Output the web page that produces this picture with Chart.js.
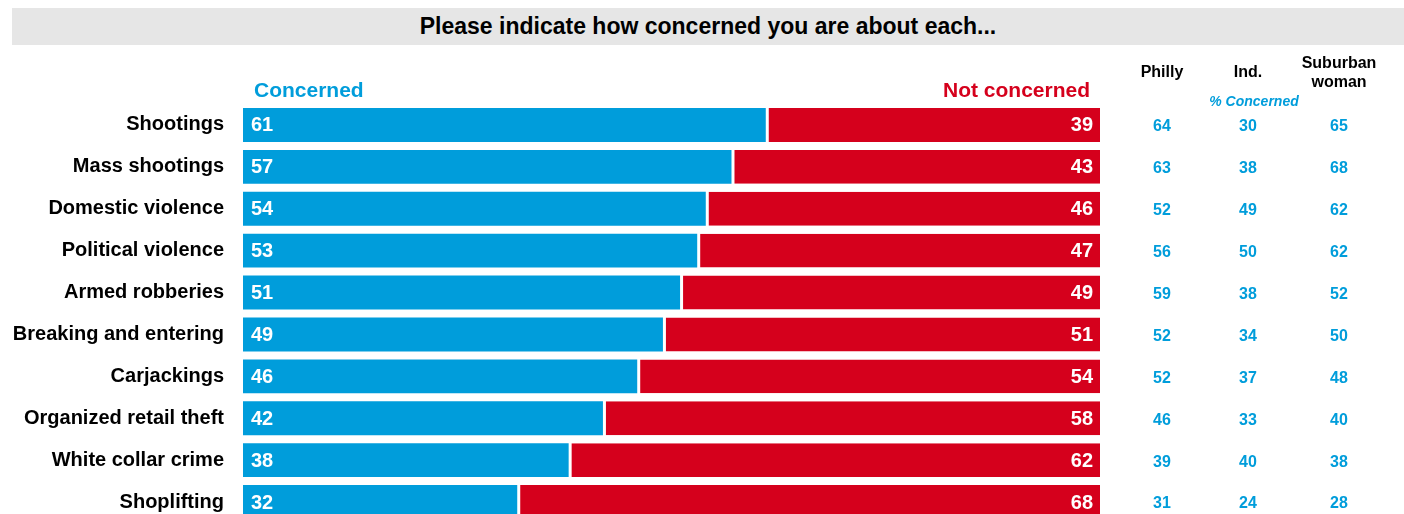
<!DOCTYPE html>
<html lang="en">
<head>
    <meta charset="UTF-8">
    <title>Please indicate how concerned you are about each...</title>
    <script src="https://cdn.jsdelivr.net/npm/chart.js"></script>
    <style>
        html, body {
            margin: 0;
            padding: 0;
            overflow: hidden;
            background: #fff;
            font-family: Arial, "Liberation Sans", sans-serif;
        }
        .title {
            position: absolute;
            left: 12px;
            top: 8px;
            width: 1392px;
            height: 37px;
            line-height: 37px;
            background: #e6e6e6;
            text-align: center;
            font-weight: bold;
            font-size: 23px;
            color: #000;
        }
        #crimeChart {
            position: absolute;
            left: 0;
            top: 0;
        }
    </style>
</head>
<body>
    <div class="title">Please indicate how concerned you are about each...</div>
    <canvas id="crimeChart" width="1404" height="554"></canvas>

    <script>
        const categories = ['Shootings', 'Mass shootings', 'Domestic violence', 'Political violence',
            'Armed robberies', 'Breaking and entering', 'Carjackings', 'Organized retail theft',
            'White collar crime', 'Shoplifting'];
        const concerned = [61, 57, 54, 53, 51, 49, 46, 42, 38, 32];
        const notConcerned = [39, 43, 46, 47, 49, 51, 54, 58, 62, 68];

        // % concerned by group (right side table)
        const philly = [64, 63, 52, 56, 59, 52, 52, 46, 39, 31];
        const independents = [30, 38, 49, 50, 38, 34, 37, 33, 40, 24];
        const suburbanWomen = [65, 68, 62, 62, 52, 50, 48, 40, 38, 28];
        const groupHeaders = [['Philly'], ['Ind.'], ['Suburban', 'woman']];

        const BLUE = '#009ddb';
        const RED = '#d5001c';
        const FONT = 'Arial, "Liberation Sans", sans-serif';

        // texts drawn on top of the bars + the side table
        const overlay = {
            id: 'overlay',
            afterDatasetsDraw(chart) {
                const ctx = chart.ctx;
                const xs = chart.scales.x;
                const ys = chart.scales.y;
                const top = chart.chartArea.top;
                ctx.save();
                ctx.textBaseline = 'middle';

                // values inside the bars
                ctx.font = 'bold 20px ' + FONT;
                ctx.fillStyle = '#fff';
                chart.getDatasetMeta(0).data.forEach((bar, i) => {
                    ctx.textAlign = 'left';
                    ctx.fillText(concerned[i], xs.getPixelForValue(0) + 8, bar.y + 1);
                });
                chart.getDatasetMeta(1).data.forEach((bar, i) => {
                    ctx.textAlign = 'right';
                    ctx.fillText(notConcerned[i], xs.getPixelForValue(100) - 7, bar.y + 1);
                });

                // series headers
                ctx.font = 'bold 21px ' + FONT;
                ctx.textAlign = 'left';
                ctx.fillStyle = BLUE;
                ctx.fillText('Concerned', xs.left + 11, 91);
                ctx.textAlign = 'right';
                ctx.fillStyle = RED;
                ctx.fillText('Not concerned', xs.right - 10, 91);

                // side table
                const cols = [1162, 1248, 1339];
                const groups = [philly, independents, suburbanWomen];
                ctx.textAlign = 'center';
                ctx.fillStyle = '#000';
                ctx.font = 'bold 16px ' + FONT;
                groupHeaders.forEach((lines, c) => {
                    if (lines.length === 1) {
                        ctx.fillText(lines[0], cols[c], 73);
                    } else {
                        ctx.fillText(lines[0], cols[c], 64);
                        ctx.fillText(lines[1], cols[c], 83);
                    }
                });
                ctx.fillStyle = BLUE;
                ctx.font = 'italic bold 14px ' + FONT;
                ctx.fillText('% Concerned', 1254, 102);

                ctx.font = 'bold 16px ' + FONT;
                categories.forEach((cat, i) => {
                    const y = ys.getPixelForValue(i) + 2;
                    groups.forEach((g, c) => ctx.fillText(g[i], cols[c], y));
                });
                ctx.restore();
            }
        };

        const ctx = document.getElementById('crimeChart').getContext('2d');
        new Chart(ctx, {
            type: 'bar',
            data: {
                labels: categories,
                datasets: [{
                    label: 'Concerned',
                    data: concerned,
                    backgroundColor: BLUE,
                    borderWidth: 0
                }, {
                    label: 'Not concerned',
                    data: notConcerned,
                    backgroundColor: RED,
                    borderColor: '#fff',
                    borderWidth: { left: 3, right: 0, top: 0, bottom: 0 },
                    borderSkipped: false
                }]
            },
            options: {
                indexAxis: 'y',
                responsive: false,
                animation: false,
                devicePixelRatio: 1,
                layout: {
                    padding: { top: 104, bottom: 4, left: 0, right: 304 }
                },
                datasets: {
                    bar: { categoryPercentage: 1, barPercentage: 0.81 }
                },
                plugins: {
                    legend: { display: false },
                    tooltip: { enabled: false }
                },
                scales: {
                    x: {
                        stacked: true,
                        min: 0,
                        max: 100,
                        display: false
                    },
                    y: {
                        stacked: true,
                        grid: { display: false, drawTicks: false },
                        border: { display: false },
                        ticks: {
                            color: '#000',
                            padding: 19,
                            font: { family: FONT, weight: 'bold', size: 20 }
                        },
                        afterFit(scale) {
                            scale.width = 243;
                        }
                    }
                }
            },
            plugins: [overlay]
        });
    </script>
</body>
</html>
